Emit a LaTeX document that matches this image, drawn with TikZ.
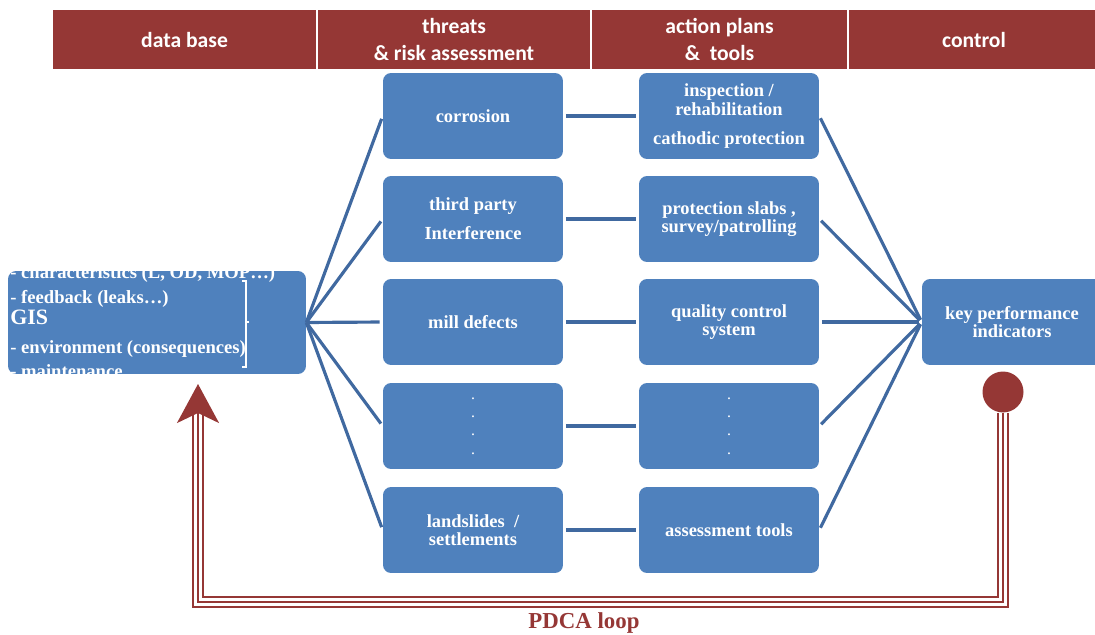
\documentclass[tikz,border=0pt]{standalone}
\usepackage{fontspec}
\usepackage{tikz}
\usetikzlibrary{arrows.meta}
\newfontfamily\hdrfont{Carlito}
\newfontfamily\boxfont{Liberation Serif}
\definecolor{hdrred}{RGB}{149,55,53}
\definecolor{boxblue}{RGB}{79,129,189}
\definecolor{linkblue}{RGB}{64,105,160}
\def\link{\draw[linkblue,line width=1.8pt,shorten <=0.05cm,shorten >=0.05cm]}
\def\triple{\draw[hdrred,line width=0.04cm,double=white,double distance=0.16cm]}

\begin{document}
\begin{tikzpicture}[x=0.02cm,y=-0.02cm,
    hdr/.style={fill=hdrred,draw=white,line width=0.6pt,text=white,align=center,
      font=\hdrfont\bfseries\fontsize{12.3}{15}\selectfont,minimum height=1.22cm,inner sep=0pt},
    blk/.style={fill=boxblue,rounded corners=0.16cm,text=white,align=center,
      font=\boxfont\bfseries\fontsize{10.5}{10.5}\selectfont,minimum width=3.6cm,minimum height=1.72cm,inner sep=0pt},
    gisline/.style={anchor=base west,inner sep=0pt,text=white,font=\boxfont\bfseries\fontsize{10.6}{11}\selectfont}]
  \useasboundingbox (0,0) rectangle (1095,635);

  % column heads
  \node[hdr,minimum width=5.3cm]  (hd base)    at (184.5,39.5) {data base};
  \node[hdr,minimum width=5.48cm] (hd threats) at (454,39.5)   {threats\\\& risk assessment};
  \node[hdr,minimum width=5.14cm] (hd actions) at (719.5,39.5) {action plans\\\& \ tools};
  \node[hdr,minimum width=5.04cm] (hd control) at (974,39.5)   {control};

  % data base
  \node[blk,minimum width=5.96cm,minimum height=2.06cm] (gis) at (157,322.5) {};
  \begin{scope}
    \clip[rounded corners=0.16cm] (gis.south west) rectangle (gis.north east);
    \node[gisline] (gis char)  at (10,278) {- characteristics (L, OD, MOP\ldots)};
    \node[gisline] (gis feed)  at (10,303) {- feedback (leaks\ldots)};
    \node[gisline,font=\boxfont\bfseries\fontsize{12.5}{13}\selectfont] (gis title) at (10,324) {GIS};
    \node[gisline] (gis env)   at (10,353) {- environment (consequences)};
    \node[gisline] (gis maint) at (10,377) {- maintenance};
    \draw[white,line width=1pt] (242,281) -- (246,281) -- (246,367) -- (242,367)
      (246,322) -- (249,322);
  \end{scope}

  % threats
  \node[blk] (thr1) at (473,116) {corrosion};
  \node[blk] (thr2) at (473,219) {third party\\[6pt]Interference};
  \node[blk] (thr3) at (473,322) {mill defects};
  \node[blk,font=\boxfont\fontsize{9}{10.5}\selectfont] (thr4) at (473,426) {.\\.\\.\\.};
  \node[blk] (thr5) at (473,530) {landslides~ /\\settlements};

  % actions
  \node[blk] (act1) at (729,116) {inspection /\\rehabilitation\\[6pt]cathodic protection};
  \node[blk] (act2) at (729,219) {protection slabs ,\\survey/patrolling};
  \node[blk] (act3) at (729,322) {quality control\\system};
  \node[blk,font=\boxfont\fontsize{9}{10.5}\selectfont] (act4) at (729,426) {.\\.\\.\\.};
  \node[blk] (act5) at (729,530) {assessment tools};

  % control
  \node[blk] (kpi) at (1012,322) {key performance\\indicators};

  \foreach \i in {1,...,5}{
    \draw[linkblue,line width=1.8pt,shorten >=0.06cm] (gis.east) -- (thr\i.west);
    \link (thr\i.east) -- (act\i.west);
    \link (act\i.east) -- (kpi.west);
  }

  % PDCA loop
  \node[circle,fill=hdrred,minimum size=0.82cm,inner sep=0pt] (kpi dot) at (1003,392) {};
  \coordinate (loop br)   at (1003,602);
  \coordinate (loop bl)   at (198,602);
  \coordinate (loop stem) at (198,415);
  \coordinate (loop tip)  at (198,384);
  \triple (kpi dot.south) -- (loop br) -- (loop bl) -- (loop stem);
  \draw[hdrred,line width=0.04cm,-{Stealth[length=0.78cm,width=0.84cm,inset=0.2cm]}]
    (kpi dot.south) -- (loop br) -- (loop bl) -- (loop tip);
  \node[text=hdrred,font=\boxfont\bfseries\fontsize{13}{15}\selectfont] (pdca) at (584,623) {PDCA loop};
\end{tikzpicture}
\end{document}
